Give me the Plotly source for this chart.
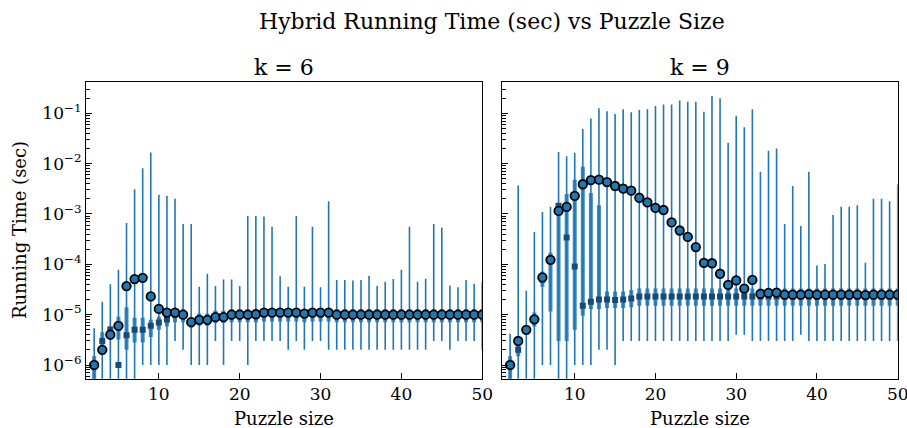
import plotly.graph_objects as go

W, H = 907, 428          # target picture size
SX = 919 / 907           # horizontal compensation factor
FW = round(W * SX)       # figure width in page pixels

puzzle_size = list(range(2, 51))

# ---------- k = 6 ----------
k6_mean = [1.0e-6, 2.0e-6, 4.0e-6, 6.0e-6, 3.7e-5, 5.1e-5, 5.4e-5, 2.3e-5, 1.3e-5, 1.1e-5,
           1.1e-5, 1.0e-5, 7.1e-6, 7.9e-6, 7.9e-6, 8.9e-6, 8.9e-6, 1.0e-5, 1.0e-5, 1.0e-5,
           1.02e-5, 1.1e-5, 1.1e-5, 1.1e-5, 1.1e-5, 1.1e-5, 1.05e-5, 1.1e-5, 1.1e-5, 1.1e-5,
           1.0e-5, 1.0e-5, 1.0e-5, 1.0e-5, 1.0e-5, 1.0e-5, 1.0e-5, 1.0e-5, 1.0e-5, 1.0e-5,
           1.0e-5, 1.0e-5, 1.0e-5, 1.0e-5, 1.0e-5, 1.0e-5, 1.0e-5, 1.0e-5, 1.0e-5]
k6_median = [1.0e-6, 3.0e-6, 5.1e-6, 1.0e-6, 3.9e-6, 5.0e-6, 5.0e-6, 6.0e-6, 7.0e-6, 8.0e-6,
             1.0e-5, 1.0e-5, 7.0e-6, 8.0e-6, 8.0e-6, 9.0e-6, 9.0e-6, 1.0e-5, 1.0e-5, 1.0e-5,
             1.0e-5, 1.05e-5, 1.05e-5, 1.05e-5, 1.05e-5, 1.05e-5, 1.0e-5, 1.05e-5, 1.05e-5, 1.05e-5,
             1.0e-5, 1.0e-5, 1.0e-5, 1.0e-5, 1.0e-5, 1.0e-5, 1.0e-5, 1.0e-5, 1.0e-5, 1.0e-5,
             1.0e-5, 1.0e-5, 1.0e-5, 1.0e-5, 1.0e-5, 1.0e-5, 1.0e-5, 1.0e-5, 1.0e-5]
k6_min = [5e-7, 5e-7, 5e-7, 5e-7, 5e-7, 5e-7, 1.0e-6, 1.0e-6, 1.0e-6, 1.0e-6,
          3.0e-6, 2.0e-6, 1.0e-6, 1.0e-6, 1.0e-6, 3.0e-6, 1.0e-6, 3.0e-6, 3.0e-6, 1.0e-6,
          3.0e-6, 3.0e-6, 3.0e-6, 3.0e-6, 2.0e-6, 3.0e-6, 2.0e-6, 3.0e-6, 3.0e-6, 2.0e-6,
          2.0e-6, 2.0e-6, 2.0e-6, 2.0e-6, 2.0e-6, 2.0e-6, 2.0e-6, 2.0e-6, 2.0e-6, 2.0e-6,
          2.0e-6, 2.0e-6, 3.0e-6, 3.0e-6, 2.0e-6, 3.0e-6, 3.0e-6, 3.0e-6, 2.0e-6]
k6_max = [5.4e-6, 1.8e-5, 4.0e-5, 7.8e-5, 6.6e-4, 3.1e-3, 8.1e-3, 1.66e-2, 2.4e-3, 2.3e-3,
          2.0e-3, 6.3e-4, 6.3e-4, 3.6e-5, 6.5e-5, 3.7e-5, 5.0e-5, 5.0e-5, 3.7e-5, 9.1e-4,
          9.1e-4, 8.9e-4, 5.6e-4, 5.8e-5, 3.6e-5, 9.1e-4, 3.6e-5, 5.6e-4, 3.5e-5, 1.8e-3,
          4.9e-5, 4.9e-5, 4.8e-5, 4.9e-5, 5.9e-5, 3.7e-5, 4.5e-5, 5.1e-5, 7.8e-5, 5.6e-4,
          4.5e-5, 5.2e-5, 6.3e-4, 5.4e-4, 3.8e-5, 3.5e-5, 4.9e-5, 4.1e-5, 4.4e-5]
k6_q1 = [5e-7, 1.8e-6, 3.2e-6, 3.2e-6, 2.0e-6, 2.8e-6, 2.8e-6, 3.6e-6, 5.0e-6, 5.8e-6,
         7.1e-6, 7.1e-6, 5.5e-6, 6.0e-6, 6.0e-6, 6.8e-6, 6.8e-6, 7.1e-6, 7.1e-6, 7.1e-6,
         7.1e-6, 7.3e-6, 7.3e-6, 7.3e-6, 7.3e-6, 7.3e-6, 7.1e-6, 7.3e-6, 7.3e-6, 7.3e-6,
         7.1e-6, 7.1e-6, 7.1e-6, 7.1e-6, 7.1e-6, 7.1e-6, 7.1e-6, 7.1e-6, 7.1e-6, 7.1e-6,
         7.1e-6, 7.1e-6, 7.1e-6, 7.1e-6, 7.1e-6, 7.1e-6, 7.1e-6, 7.1e-6, 7.1e-6]
k6_q3 = [1.5e-6, 4.5e-6, 5.8e-6, 9.1e-6, 1.4e-5, 8.7e-6, 8.7e-6, 7.9e-6, 9.1e-6, 1.0e-5,
         1.3e-5, 1.3e-5, 9.0e-6, 1.05e-5, 1.05e-5, 1.2e-5, 1.2e-5, 1.3e-5, 1.3e-5, 1.3e-5,
         1.3e-5, 1.35e-5, 1.35e-5, 1.35e-5, 1.35e-5, 1.35e-5, 1.3e-5, 1.35e-5, 1.35e-5, 1.35e-5,
         1.3e-5, 1.3e-5, 1.3e-5, 1.3e-5, 1.3e-5, 1.3e-5, 1.3e-5, 1.3e-5, 1.3e-5, 1.3e-5,
         1.3e-5, 1.3e-5, 1.3e-5, 1.3e-5, 1.3e-5, 1.3e-5, 1.3e-5, 1.3e-5, 1.3e-5]

# ---------- k = 9 ----------
k9_mean = [1.0e-6, 3.0e-6, 5.0e-6, 8.1e-6, 5.5e-5, 1.23e-4, 1.15e-3, 1.38e-3, 2.3e-3, 3.9e-3,
           4.7e-3, 4.8e-3, 4.3e-3, 3.6e-3, 3.2e-3, 2.9e-3, 2.1e-3, 1.7e-3, 1.32e-3, 1.2e-3,
           6.8e-4, 4.7e-4, 3.5e-4, 2.2e-4, 1.07e-4, 1.05e-4, 6.5e-5, 3.9e-5, 4.8e-5, 3.3e-5,
           4.9e-5, 2.6e-5, 2.7e-5, 2.75e-5, 2.5e-5, 2.5e-5, 2.5e-5, 2.55e-5, 2.5e-5, 2.5e-5,
           2.5e-5, 2.5e-5, 2.5e-5, 2.5e-5, 2.45e-5, 2.5e-5, 2.5e-5, 2.5e-5, 2.5e-5]
k9_median = [1.0e-6, 2.0e-6, 5.0e-6, 8.0e-6, 5.0e-5, 1.2e-4, 1.45e-3, 3.4e-4, 9.1e-5, 1.5e-5,
             1.8e-5, 2.0e-5, 2.0e-5, 1.95e-5, 2.0e-5, 2.1e-5, 2.3e-5, 2.3e-5, 2.3e-5, 2.3e-5,
             2.3e-5, 2.3e-5, 2.3e-5, 2.3e-5, 2.3e-5, 2.3e-5, 2.3e-5, 2.3e-5, 2.3e-5, 2.3e-5,
             2.3e-5, 2.3e-5, 2.3e-5, 2.3e-5, 2.3e-5, 2.3e-5, 2.3e-5, 2.3e-5, 2.3e-5, 2.3e-5,
             2.3e-5, 2.3e-5, 2.3e-5, 2.3e-5, 2.3e-5, 2.3e-5, 2.3e-5, 2.3e-5, 2.3e-5]
k9_min = [5e-7, 5e-7, 5e-7, 5e-7, 1.0e-6, 1.0e-6, 5e-7, 5e-7, 1.0e-6, 1.0e-6,
          1.0e-6, 2.0e-6, 2.0e-6, 1.0e-6, 3.0e-6, 3.0e-6, 3.0e-6, 3.0e-6, 3.0e-6, 3.0e-6,
          3.0e-6, 3.0e-6, 3.0e-6, 3.0e-6, 3.0e-6, 3.0e-6, 3.0e-6, 3.0e-6, 4.0e-6, 4.0e-6,
          3.0e-6, 3.0e-6, 3.0e-6, 3.0e-6, 3.0e-6, 3.0e-6, 4.0e-6, 3.0e-6, 3.0e-6, 3.0e-6,
          3.0e-6, 3.0e-6, 3.0e-6, 3.0e-6, 3.0e-6, 3.0e-6, 3.0e-6, 3.0e-6, 3.0e-6]
k9_max = [4.2e-6, 3.7e-3, 3.0e-5, 4.4e-4, 1.1e-3, 1.4e-3, 1.7e-2, 1.4e-2, 1.65e-2, 4.9e-2,
          7.9e-2, 0.126, 0.11, 0.097, 0.12, 0.105, 0.117, 0.12, 0.14, 0.15,
          0.15, 0.18, 0.17, 0.17, 0.107, 0.22, 0.20, 2.6e-2, 8.9e-2, 5.3e-2,
          0.12, 6.9e-3, 1.8e-2, 2.0e-2, 6.3e-4, 3.6e-3, 5.8e-4, 6.9e-3, 9.5e-5, 1.02e-4,
          9.5e-4, 1.4e-3, 1.4e-3, 1.5e-3, 1.07e-4, 2.0e-3, 2.0e-3, 1.8e-3, 3.9e-3]
k9_q1 = [5e-7, 1.5e-6, 4.0e-6, 5.8e-6, 3.6e-5, 1.15e-5, 3.0e-6, 3.0e-6, 5.0e-6, 9.5e-6,
         1.3e-5, 1.3e-5, 1.35e-5, 1.35e-5, 1.35e-5, 1.4e-5, 1.5e-5, 1.5e-5, 1.5e-5, 1.5e-5,
         1.5e-5, 1.5e-5, 1.5e-5, 1.5e-5, 1.5e-5, 1.5e-5, 1.5e-5, 1.5e-5, 1.5e-5, 1.5e-5,
         1.5e-5, 1.5e-5, 1.5e-5, 1.5e-5, 1.5e-5, 1.5e-5, 1.5e-5, 1.5e-5, 1.5e-5, 1.5e-5,
         1.5e-5, 1.5e-5, 1.5e-5, 1.5e-5, 1.5e-5, 1.5e-5, 1.5e-5, 1.5e-5, 1.5e-5]
k9_q3 = [1.5e-6, 2.5e-6, 6.0e-6, 1.1e-5, 7.2e-5, 1.7e-4, 1.6e-3, 2.5e-3, 4.8e-3, 8.7e-3,
         2.6e-3, 1.5e-3, 2.9e-5, 2.9e-5, 2.9e-5, 3.1e-5, 3.3e-5, 3.3e-5, 3.3e-5, 3.3e-5,
         3.3e-5, 3.3e-5, 3.3e-5, 3.3e-5, 3.3e-5, 3.3e-5, 3.3e-5, 3.3e-5, 3.3e-5, 3.3e-5,
         3.3e-5, 3.3e-5, 3.3e-5, 3.3e-5, 3.3e-5, 3.3e-5, 3.3e-5, 3.3e-5, 3.3e-5, 3.3e-5,
         3.3e-5, 3.3e-5, 3.3e-5, 3.3e-5, 3.3e-5, 3.3e-5, 3.3e-5, 3.3e-5, 3.3e-5]

y_tickvals = [1e-6, 1e-5, 1e-4, 1e-3, 1e-2, 1e-1]
y_ticktext = ["10<sup>\u22126</sup>", "10<sup>\u22125</sup>", "10<sup>\u22124</sup>",
              "10<sup>\u22123</sup>", "10<sup>\u22122</sup>", "10<sup>\u22121</sup>"]
x_tickvals = [10, 20, 30, 40, 50]

FONT = "DejaVu Serif"
BLUE = "#1f77b4"
DARK = "#194a73"


def segments(xs, lo, hi):
    sx, sy = [], []
    for x, a, b in zip(xs, lo, hi):
        sx += [x, x, None]
        sy += [a, b, None]
    return sx, sy


fig = go.Figure()

panels = [
    ("x", "y", k6_mean, k6_median, k6_min, k6_max, k6_q1, k6_q3),
    ("x2", "y2", k9_mean, k9_median, k9_min, k9_max, k9_q1, k9_q3),
]
for xa, ya, mean, med, mn, mx, q1, q3 in panels:
    wx, wy = segments(puzzle_size, mn, mx)
    fig.add_trace(go.Scatter(x=wx, y=wy, mode="lines", xaxis=xa, yaxis=ya,
                             line=dict(color=BLUE, width=1.6), hoverinfo="skip",
                             showlegend=False))
    ix, iy = segments(puzzle_size, q1, q3)
    fig.add_trace(go.Scatter(x=ix, y=iy, mode="lines", xaxis=xa, yaxis=ya,
                             line=dict(color="rgba(31,119,180,0.85)", width=4),
                             hoverinfo="skip", showlegend=False))
    fig.add_trace(go.Scatter(x=puzzle_size, y=med, mode="markers", xaxis=xa, yaxis=ya,
                             marker=dict(symbol="square", size=6, color=DARK,
                                         line=dict(width=0)),
                             showlegend=False))
    fig.add_trace(go.Scatter(x=puzzle_size, y=mean, mode="markers", xaxis=xa, yaxis=ya,
                             marker=dict(symbol="circle", size=8.5, color=BLUE,
                                         line=dict(color="black", width=1.8)),
                             showlegend=False))

minor_vals = [m * 10.0 ** e for e in range(-7, 0) for m in range(2, 10)]

ax_common = dict(showline=True, linecolor="black", linewidth=1.3, mirror=True,
                 showgrid=False, zeroline=False, ticks="inside", tickcolor="black",
                 tickwidth=1.3, tickfont=dict(family=FONT, size=17, color="black"))

x_common = dict(ax_common, range=[1, 50], tickmode="array", tickvals=x_tickvals,
                ticklen=6)
y_common = dict(ax_common, type="log", range=[-6.272, -0.378], tickmode="array",
                tickvals=y_tickvals, ticktext=y_ticktext, ticklen=6,
                minor=dict(ticks="inside", ticklen=3.5, tickwidth=1, tickcolor="black",
                           tickmode="array", tickvals=minor_vals, showgrid=False))

L0, L1 = 86 / W, 481.7 / W
R0, R1 = 501.5 / W, 896.7 / W
Y0, Y1 = 1 - 378.7 / H, 1 - 82 / H

fig.update_layout(
    width=FW, height=H, margin=dict(l=0, r=0, t=0, b=0),
    paper_bgcolor="white", plot_bgcolor="white",
    font=dict(family=FONT, color="black"),
    xaxis=dict(x_common, domain=[L0, L1], anchor="y"),
    yaxis=dict(y_common, domain=[Y0, Y1], anchor="x"),
    xaxis2=dict(x_common, domain=[R0, R1], anchor="y2"),
    yaxis2=dict(y_common, domain=[Y0, Y1], anchor="x2", matches="y",
                showticklabels=False),
)


def ann(text, px, py, size, angle=0):
    fig.add_annotation(text=text, x=px / W, y=1 - py / H, xref="paper", yref="paper",
                       xanchor="center", yanchor="middle", showarrow=False,
                       textangle=angle, font=dict(family=FONT, size=size, color="black"))


ann("Hybrid Running Time (sec) vs Puzzle Size", 491, 21, 22)
ann("k = 6", 284, 67, 22)
ann("k = 9", 699, 67, 22)
ann("Puzzle size", 284, 418, 18)
ann("Puzzle size", 699, 418, 18)
ann("Running Time (sec)", 19, 230, 18, angle=-90)

fig.write_html("out.html",
               config={"displayModeBar": False, "responsive": False},
               post_script="document.body.style.margin='0';")
